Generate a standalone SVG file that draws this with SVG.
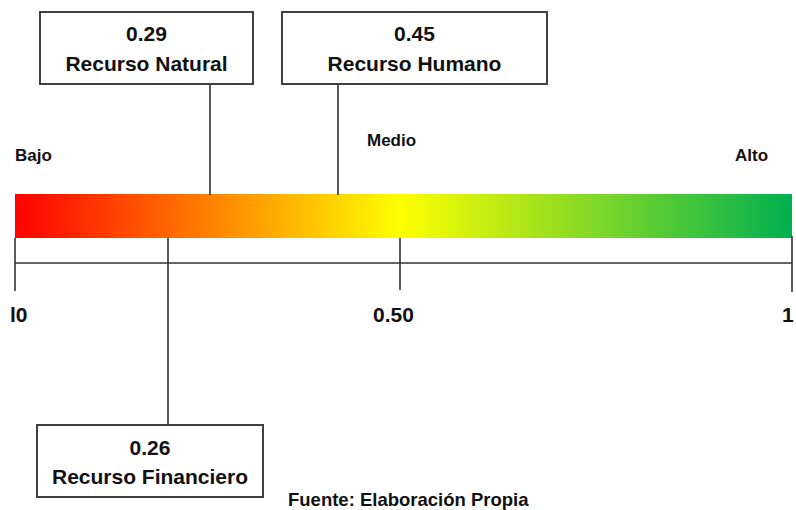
<svg xmlns="http://www.w3.org/2000/svg" width="796" height="510" viewBox="0 0 796 510">
<style>
.box{fill:#fff;stroke:#404040;stroke-width:2}
.ln{stroke:#333;stroke-width:1.6;fill:none}
.t{font-family:"Liberation Sans",Arial,sans-serif;font-weight:bold;fill:#111}
.bt{font-size:21px;text-anchor:middle}
.sm{font-size:17px}
</style>
<defs>
<linearGradient id="g" x1="0" y1="0" x2="1" y2="0">
<stop offset="0" stop-color="#ff0000"/>
<stop offset="0.495" stop-color="#ffff00"/>
<stop offset="1" stop-color="#00b050"/>
</linearGradient>
</defs>
<rect id="bar" x="15" y="194" width="777" height="44" fill="url(#g)"/>
<g id="connectors">
<line class="ln" x1="210" y1="84" x2="210" y2="195"/>
<line class="ln" x1="338" y1="84" x2="338" y2="195"/>
<line class="ln" x1="168" y1="238" x2="168" y2="425"/>
<line class="ln" x1="15" y1="263" x2="792" y2="263"/>
<line class="ln" x1="15" y1="238" x2="15" y2="291"/>
<line class="ln" x1="400" y1="238" x2="400" y2="290"/>
<line class="ln" x1="792" y1="236" x2="792" y2="292"/>
</g>
<g id="natural">
<rect class="box" x="40" y="12" width="213" height="72"/>
<text class="t bt" x="146.500" y="41">0.29</text>
<text class="t bt" x="146.500" y="71">Recurso Natural</text>
</g>
<g id="humano">
<rect class="box" x="282" y="12" width="265" height="72"/>
<text class="t bt" x="414.500" y="41">0.45</text>
<text class="t bt" x="414.500" y="71">Recurso Humano</text>
</g>
<g id="financiero">
<rect class="box" x="37" y="425" width="226" height="72"/>
<text class="t bt" x="150" y="455">0.26</text>
<text class="t bt" x="150" y="484">Recurso Financiero</text>
</g>
<g id="labels">
<text class="t sm" x="15" y="161">Bajo</text>
<text class="t sm" x="367" y="146">Medio</text>
<text class="t sm" x="735" y="161">Alto</text>
<text class="t" x="10" y="322" font-size="21">l0</text>
<text class="t" x="373" y="322" font-size="21">0.50</text>
<text class="t" x="782" y="322" font-size="21">1</text>
<text class="t" x="288" y="506" font-size="18.5">Fuente: Elaboración  Propia</text>
</g>
</svg>
